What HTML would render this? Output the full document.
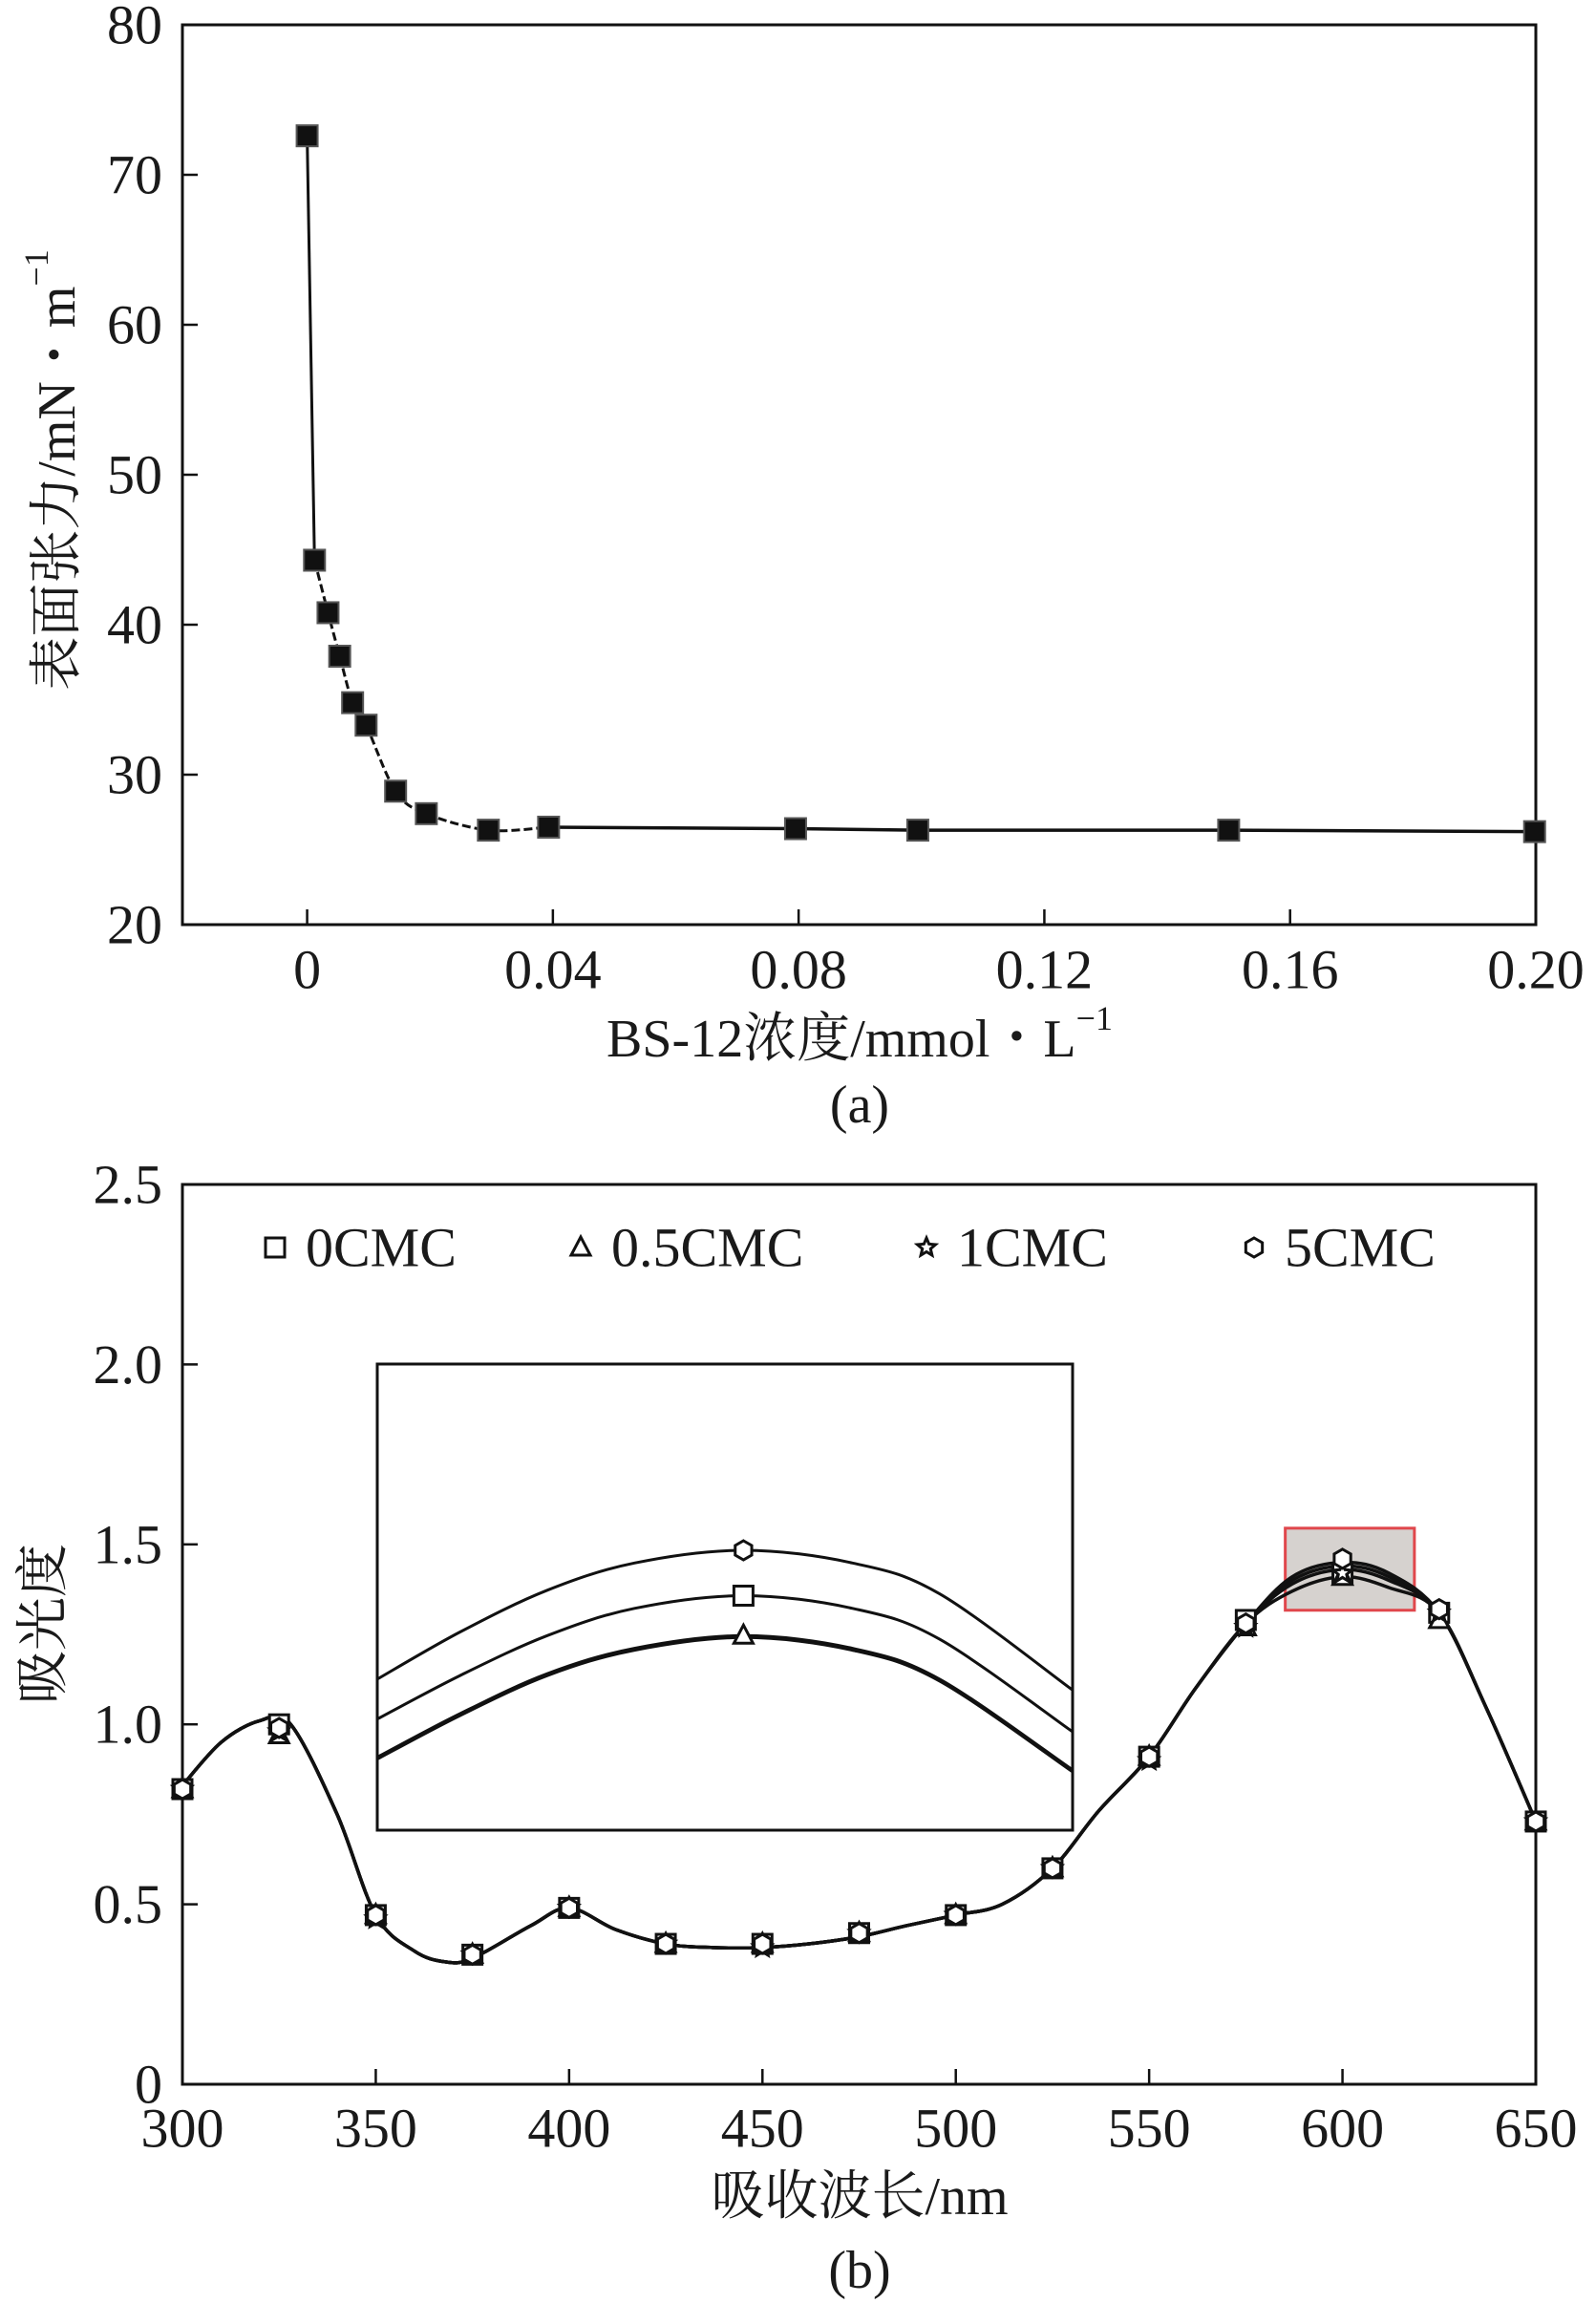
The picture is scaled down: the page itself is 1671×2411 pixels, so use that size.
<!DOCTYPE html>
<html><head><meta charset="utf-8">
<style>
html,body{margin:0;padding:0;background:#fff;}
svg{display:block;}
text{font-family:"Liberation Serif","Noto Serif CJK SC","Noto Sans CJK SC",serif;fill:#1a1a1a;}
</style></head>
<body>
<svg id="fig" width="1671" height="2411" viewBox="0 0 1671 2411" xmlns="http://www.w3.org/2000/svg">
<g id="chartA"></g>
<g id="chartB"></g>
</svg>
<script>
// ---- Chart (a) data ----
const concX = [0, 0.0012, 0.0034, 0.0053, 0.0074, 0.0096, 0.0144, 0.0194, 0.0295, 0.0393, 0.0795, 0.0994, 0.15, 0.1998];
const tensionY = [72.6, 44.3, 40.8, 37.9, 34.8, 33.3, 28.9, 27.4, 26.3, 26.5, 26.4, 26.3, 26.3, 26.2];
const aXTicks = [0, 0.04, 0.08, 0.12, 0.16, 0.20];
const aXTickLabels = ["0", "0.04", "0.08", "0.12", "0.16", "0.20"];
const aYTicks = [20, 30, 40, 50, 60, 70, 80];

// ---- Chart (b) data ----
const wl = [300, 325, 350, 375, 400, 425, 450, 475, 500, 525, 550, 575, 600, 625, 650];
const abs0 = [0.82, 1.00, 0.47, 0.36, 0.49, 0.39, 0.39, 0.42, 0.47, 0.60, 0.91, 1.29, 1.42, 1.31, 0.73];
const abs05 = [0.82, 0.97, 0.47, 0.36, 0.49, 0.39, 0.39, 0.42, 0.47, 0.60, 0.91, 1.27, 1.41, 1.29, 0.73];
const abs1 = [0.82, 0.98, 0.46, 0.36, 0.49, 0.39, 0.38, 0.42, 0.47, 0.60, 0.90, 1.27, 1.42, 1.31, 0.73];
const abs5 = [0.82, 0.99, 0.47, 0.36, 0.49, 0.39, 0.39, 0.42, 0.47, 0.60, 0.91, 1.28, 1.46, 1.32, 0.73];
const lineWl = [300, 310, 320, 328, 340, 350, 360, 368, 375, 390, 400, 412, 425, 437, 450, 462, 475, 487, 500, 512, 525, 537, 550, 562, 575, 587, 600, 612, 625, 637, 650];
const lineAbs = [0.83, 0.95, 1.01, 1.00, 0.75, 0.47, 0.37, 0.34, 0.35, 0.44, 0.49, 0.43, 0.39, 0.38, 0.38, 0.39, 0.41, 0.44, 0.47, 0.50, 0.60, 0.76, 0.91, 1.10, 1.28, 1.39, 1.43, 1.40, 1.31, 1.05, 0.73];
const bXTicks = [300, 350, 400, 450, 500, 550, 600, 650];
const bYTicks = [0, 0.5, 1.0, 1.5, 2.0, 2.5];
const bYTickLabels = ["0", "0.5", "1.0", "1.5", "2.0", "2.5"];
const legendLabels = ["0CMC", "0.5CMC", "1CMC", "5CMC"];
// inset (zoom of ~583–615 nm)
const insetWl = [583.2, 587, 591, 595, 600, 605, 609, 615.1];
const inset5 = [1.414, 1.440, 1.463, 1.478, 1.485, 1.478, 1.461, 1.408];
const inset0 = [1.392, 1.416, 1.438, 1.453, 1.460, 1.453, 1.436, 1.385];
const inset05 = [1.371, 1.395, 1.417, 1.431, 1.438, 1.431, 1.414, 1.364];

const NS = "http://www.w3.org/2000/svg";
function mk(parent, tag, attrs) {
  const e = document.createElementNS(NS, tag);
  for (const k in attrs) e.setAttribute(k, attrs[k]);
  parent.appendChild(e);
  return e;
}
function txt(parent, x, y, s, size, anchor) {
  const t = mk(parent, "text", {x: x, y: y, "font-size": size, "text-anchor": anchor || "middle", "dominant-baseline": "central"});
  t.textContent = s;
  return t;
}
function smooth(pts) {
  let d = "M" + pts[0][0] + "," + pts[0][1];
  for (let i = 0; i < pts.length - 1; i++) {
    const p0 = pts[i - 1] || pts[i], p1 = pts[i], p2 = pts[i + 1], p3 = pts[i + 2] || p2;
    const c1x = p1[0] + (p2[0] - p0[0]) / 6, c1y = p1[1] + (p2[1] - p0[1]) / 6;
    const c2x = p2[0] - (p3[0] - p1[0]) / 6, c2y = p2[1] - (p3[1] - p1[1]) / 6;
    d += " C" + c1x + "," + c1y + " " + c2x + "," + c2y + " " + p2[0] + "," + p2[1];
  }
  return d;
}

// ===== Chart A =====
(function () {
  const g = document.getElementById("chartA");
  const L = 191, R = 1608, T = 26, B = 968;
  const xmin = -0.0203, xmax = 0.20, ymin = 20, ymax = 80;
  const sx = v => L + (v - xmin) / (xmax - xmin) * (R - L);
  const sy = v => B - (v - ymin) / (ymax - ymin) * (B - T);
  const frame = mk(g, "rect", {x: L, y: T, width: R - L, height: B - T, fill: "none", stroke: "#111", "stroke-width": 3});
  
  
  aXTicks.forEach((v, i) => {
    const tk = mk(g, "line", {x1: sx(v), x2: sx(v), y1: B, y2: B - 16, stroke: "#111", "stroke-width": 2.5});
    
    
    const t = txt(g, sx(v), 1015, aXTickLabels[i], 58);
    
    
  });
  aYTicks.forEach(v => {
    const tk = mk(g, "line", {x1: L, x2: L + 16, y1: sy(v), y2: sy(v), stroke: "#111", "stroke-width": 2.5});
    
    
    const t = txt(g, 170, sy(v), String(v), 58, "end");
    
    
  });
  const pts = concX.map((c, i) => [sx(c), sy(tensionY[i])]);
  const l1 = mk(g, "polyline", {points: pts.slice(0, 2).map(p => p.join(",")).join(" "), fill: "none", stroke: "#111", "stroke-width": 3});
  
  
  const l2 = mk(g, "path", {d: smooth(pts.slice(1, 10)), fill: "none", stroke: "#111", "stroke-width": 3, "stroke-dasharray": "9 4"});
  
  
  const l3 = mk(g, "polyline", {points: pts.slice(9).map(p => p.join(",")).join(" "), fill: "none", stroke: "#111", "stroke-width": 3.5});
  
  
  pts.forEach(p => {
    const m = mk(g, "rect", {x: p[0] - 11, y: p[1] - 11, width: 22, height: 22, fill: "#111", stroke: "#555", "stroke-width": 2});
    
    
  });
  const xt = mk(g, "text", {x: 900, y: 1088, "font-size": 56, "text-anchor": "middle", "dominant-baseline": "central"});
  xt.innerHTML = 'BS-12浓度/mmol・L<tspan font-size="36" dy="-22">−1</tspan>';
  
  
  const yt = mk(g, "text", {x: 0, y: 0, "font-size": 56, "text-anchor": "middle", "dominant-baseline": "central", transform: "translate(60,492) rotate(-90)"});
  yt.innerHTML = '表面张力/mN・m<tspan font-size="36" dy="-22">−1</tspan>';
  
  
  const cap = txt(g, 900, 1157, "(a)", 56);
  
  
})();

// ===== Chart B =====
(function () {
  const g = document.getElementById("chartB");
  const L = 191, R = 1608, T = 1240, B = 2182;
  const sx = v => L + (v - 300) / 350 * (R - L);
  const sy = v => B - v / 2.5 * (B - T);
  const hb = mk(g, "rect", {x: sx(585.2), y: sy(1.545), width: sx(618.6) - sx(585.2), height: sy(1.317) - sy(1.545), fill: "#d6d2cf", stroke: "#e0474c", "stroke-width": 3});
  
  
  const frame = mk(g, "rect", {x: L, y: T, width: R - L, height: B - T, fill: "none", stroke: "#111", "stroke-width": 3});
  
  
  bXTicks.forEach(v => {
    const tk = mk(g, "line", {x1: sx(v), x2: sx(v), y1: B, y2: B - 16, stroke: "#111", "stroke-width": 2.5});
    
    
    const t = txt(g, sx(v), 2228, String(v), 58);
    
    
  });
  bYTicks.forEach((v, i) => {
    const tk = mk(g, "line", {x1: L, x2: L + 16, y1: sy(v), y2: sy(v), stroke: "#111", "stroke-width": 2.5});
    
    
    const t = txt(g, 170, sy(v), bYTickLabels[i], 58, "end");
    
    
  });
  const offs = [0, -0.01, 0.005, 0.01];
  offs.forEach((o, k) => {
    const p = mk(g, "path", {d: smooth(lineWl.map((w, i) => [sx(w), sy(lineAbs[i] + (w >= 585 && w <= 615 ? o * 2 : 0))])), fill: "none", stroke: "#111", "stroke-width": 3.5});
    
    
  });
  function marker(kind, x, y, r) {
    let m;
    if (kind === 0) m = mk(g, "rect", {x: x - r, y: y - r, width: 2 * r, height: 2 * r, fill: "#fff", stroke: "#111", "stroke-width": 3});
    else if (kind === 1) m = mk(g, "polygon", {points: `${x},${y - r * 1.1} ${x + r},${y + r * 0.8} ${x - r},${y + r * 0.8}`, fill: "#fff", stroke: "#111", "stroke-width": 3});
    else if (kind === 2) {
      let s = "";
      for (let i = 0; i < 10; i++) { const a = -Math.PI / 2 + i * Math.PI / 5, rr = i % 2 ? r * 0.45 : r; s += (x + rr * Math.cos(a)) + "," + (y + rr * Math.sin(a)) + " "; }
      m = mk(g, "polygon", {points: s, fill: "#fff", stroke: "#111", "stroke-width": 3});
    } else {
      let s = "";
      for (let i = 0; i < 6; i++) { const a = -Math.PI / 2 + i * Math.PI / 3; s += (x + r * Math.cos(a)) + "," + (y + r * Math.sin(a)) + " "; }
      m = mk(g, "polygon", {points: s, fill: "#fff", stroke: "#111", "stroke-width": 3});
    }
    return m;
  }
  const series = [abs0, abs05, abs1, abs5];
  series.forEach((arr, k) => {
    wl.forEach((w, i) => {
      const m = marker(k, sx(w), sy(arr[i]), 10);
      
      
    });
  });
  const lmx = [288, 608, 970, 1313];
  legendLabels.forEach((lab, k) => {
    const m = marker(k, lmx[k], 1306, 10);
    
    
    const t = txt(g, lmx[k] + 32, 1306, lab, 58, "start");
    
    
  });
  // inset
  const IL = 395, IR = 1123, IT = 1428, IB = 1916;
  const ix = v => IL + (v - 583.2) / 31.9 * (IR - IL);
  const iy = v => 1623 + (1.485 - v) * 1900;
  const inr = mk(g, "rect", {x: IL, y: IT, width: IR - IL, height: IB - IT, fill: "#fff", stroke: "#111", "stroke-width": 3});
  
  
  [inset5, inset0, inset05, inset05].forEach((arr, k) => {
    const p = mk(g, "path", {d: smooth(insetWl.map((w, i) => [ix(w), iy(arr[i]) + (k === 3 ? 2 : 0)])), fill: "none", stroke: "#111", "stroke-width": 3});
    
    
  });
  [[3, inset5], [0, inset0], [1, inset05]].forEach(([k, arr]) => {
    const m = marker(k, ix(600), iy(arr[4]), 10);
    
    
  });
  const xt = txt(g, 900, 2300, "吸收波长/nm", 56);
  
  
  const yt = mk(g, "text", {x: 0, y: 0, "font-size": 56, "text-anchor": "middle", "dominant-baseline": "central", transform: "translate(46,1700) rotate(-90)"});
  yt.textContent = "吸光度";
  
  
  const cap = txt(g, 900, 2377, "(b)", 56);
  
  
})();
</script>
</body></html>
